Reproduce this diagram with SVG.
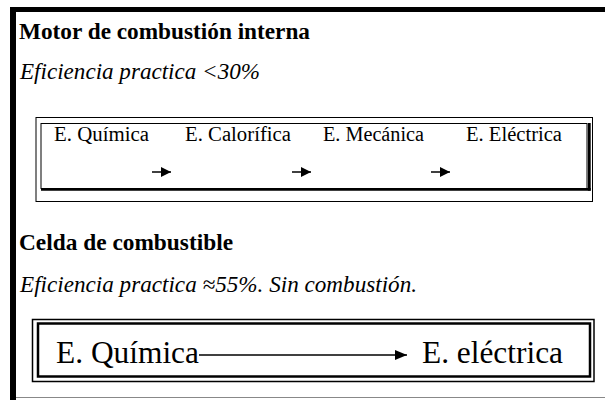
<svg xmlns="http://www.w3.org/2000/svg" width="605" height="400" viewBox="0 0 605 400">
<style>
text{font-family:"Times New Roman",Tinos,serif;fill:#000}
.b{font-weight:bold;font-size:23px}
.i{font-style:italic;font-size:23px}
.s{font-size:20.5px}
.l{font-size:31px}
.thin{fill:none;stroke:#000;stroke-width:1}
</style>
<defs>
<marker id="ah" viewBox="0 0 10 10" refX="10" refY="5" markerWidth="10" markerHeight="10" markerUnits="userSpaceOnUse" orient="auto">
<path d="M0,0 L10,5 L0,10 Z" fill="#000"/>
</marker>
<marker id="ah2" viewBox="0 0 12 10" refX="12" refY="5" markerWidth="12" markerHeight="10" markerUnits="userSpaceOnUse" orient="auto">
<path d="M0,0 L12,5 L0,10 Z" fill="#000"/>
</marker>
</defs>
<rect width="605" height="400" fill="#fff"/>
<g id="frame">
<rect x="10" y="7" width="595" height="5" fill="#000"/>
<rect x="10" y="7" width="6" height="393" fill="#000"/>
<line x1="16" y1="397.5" x2="605" y2="397.5" stroke="#888" stroke-width="1"/>
</g>
<g id="motor-title">
<text class="b" x="19" y="39" textLength="291" lengthAdjust="spacingAndGlyphs">Motor de combustión interna</text>
<text class="i" x="20" y="79" textLength="240" lengthAdjust="spacingAndGlyphs">Eficiencia practica &lt;30%</text>
</g>
<g id="motor-box">
<rect class="thin" x="36" y="117.5" width="556.5" height="84"/>
<rect class="thin" x="41" y="123.5" width="546" height="65"/>
<line x1="41" y1="189.3" x2="590.7" y2="189.3" stroke="#000" stroke-width="2.8"/>
<line x1="589.3" y1="123" x2="589.3" y2="190.7" stroke="#000" stroke-width="2.8"/>
</g>
<g id="n-quimica"><text class="s" x="54" y="141" textLength="95" lengthAdjust="spacingAndGlyphs">E. Química</text></g>
<g id="n-calorifica"><text class="s" x="185" y="141" textLength="106" lengthAdjust="spacingAndGlyphs">E. Calorífica</text></g>
<g id="n-mecanica"><text class="s" x="323" y="141" textLength="101" lengthAdjust="spacingAndGlyphs">E. Mecánica</text></g>
<g id="n-electrica"><text class="s" x="466" y="141" textLength="96" lengthAdjust="spacingAndGlyphs">E. Eléctrica</text></g>
<g id="celda-title">
<text class="b" x="19" y="250" textLength="214" lengthAdjust="spacingAndGlyphs">Celda de combustible</text>
<text class="i" x="20" y="292" textLength="397" lengthAdjust="spacingAndGlyphs">Eficiencia practica ≈55%. Sin combustión.</text>
</g>
<g id="celda-box">
<rect x="32.5" y="319.5" width="561.5" height="62" fill="none" stroke="#000" stroke-width="1.5"/>
<rect x="38" y="323.5" width="552" height="53" fill="none" stroke="#000" stroke-width="2.5"/>
</g>
<g id="n-quimica2"><text class="l" x="56" y="363" textLength="143" lengthAdjust="spacingAndGlyphs">E. Química</text></g>
<g id="n-electrica2"><text class="l" x="422" y="363" textLength="141" lengthAdjust="spacingAndGlyphs">E. eléctrica</text></g>
<g id="connectors">
<line x1="152" y1="172" x2="171" y2="172" stroke="#000" stroke-width="1.5" marker-end="url(#ah)"/>
<line x1="292" y1="172" x2="311" y2="172" stroke="#000" stroke-width="1.5" marker-end="url(#ah)"/>
<line x1="431" y1="172" x2="450" y2="172" stroke="#000" stroke-width="1.5" marker-end="url(#ah)"/>
<line x1="199" y1="355" x2="407" y2="355" stroke="#000" stroke-width="1.3" marker-end="url(#ah2)"/>
</g>
</svg>
